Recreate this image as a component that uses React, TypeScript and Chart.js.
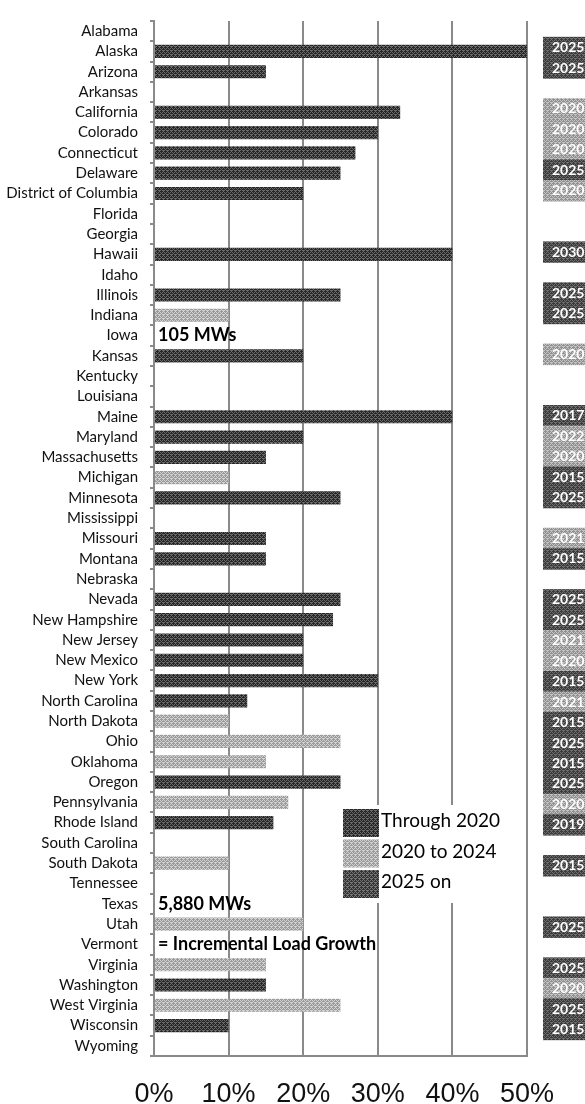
import React, { useEffect, useRef } from "react";
import { Chart, registerables } from "chart.js";

Chart.register(...registerables);

const states = [
  "Alabama", "Alaska", "Arizona", "Arkansas", "California", "Colorado", "Connecticut",
  "Delaware", "District of Columbia", "Florida", "Georgia", "Hawaii", "Idaho", "Illinois",
  "Indiana", "Iowa", "Kansas", "Kentucky", "Louisiana", "Maine", "Maryland", "Massachusetts",
  "Michigan", "Minnesota", "Mississippi", "Missouri", "Montana", "Nebraska", "Nevada",
  "New Hampshire", "New Jersey", "New Mexico", "New York", "North Carolina", "North Dakota",
  "Ohio", "Oklahoma", "Oregon", "Pennsylvania", "Rhode Island", "South Carolina",
  "South Dakota", "Tennessee", "Texas", "Utah", "Vermont", "Virginia", "Washington",
  "West Virginia", "Wisconsin", "Wyoming",
];

// Renewable portfolio standard target (% of load)
const targetPct: (number | null)[] = [
  null, 50, 15, null, 33, 30, 27, 25, 20, null, null, 40, null, 25,
  10, null, 20, null, null, 40, 20, 15,
  10, 25, null, 15, 15, null, 25,
  24, 20, 20, 30, 12.5, 10,
  25, 15, 25, 18, 16, null,
  10, null, null, 20, null, 15, 15,
  25, 10, null,
];

// "d" = dark bar, "l" = light bar
const barShade = [
  "d", "d", "d", "d", "d", "d", "d", "d", "d", "d", "d", "d", "d", "d",
  "l", "d", "d", "d", "d", "d", "d", "d",
  "l", "d", "d", "d", "d", "d", "d",
  "d", "d", "d", "d", "d", "l",
  "l", "l", "d", "l", "d", "d",
  "l", "d", "d", "l", "d", "l", "d",
  "l", "d", "d",
];

// Target year shown at right
const targetYear = [
  "", "2025", "2025", "", "2020", "2020", "2020", "2025", "2020", "", "", "2030", "", "2025",
  "2025", "", "2020", "", "", "2017", "2022", "2020",
  "2015", "2025", "", "2021", "2015", "", "2025",
  "2025", "2021", "2020", "2015", "2021", "2015",
  "2025", "2015", "2025", "2020", "2019", "",
  "2015", "", "", "2025", "", "2025", "2020",
  "2025", "2015", "",
];

const xTicks = [0, 10, 20, 30, 40, 50];

const notes = [
  { state: "Iowa", text: "105 MWs" },
  { state: "Texas", text: "5,880 MWs" },
  { state: "Vermont", text: "= Incremental Load Growth" },
];

const legendItems = ["Through 2020", "2020 to 2024", "2025 on"];
const legendShades = ["d", "l", "d2"];

const MASK = [
  [1, 0, 1, 0],
  [0, 1, 0, 0],
  [1, 0, 1, 1],
  [0, 0, 0, 1],
];

function makePattern(a: string, b: string): CanvasPattern | string {
  const c = document.createElement("canvas");
  c.width = 4;
  c.height = 4;
  const ctx = c.getContext("2d");
  if (!ctx) return a;
  for (let y = 0; y < 4; y++) {
    for (let x = 0; x < 4; x++) {
      ctx.fillStyle = MASK[y][x] ? a : b;
      ctx.fillRect(x, y, 1, 1);
    }
  }
  return ctx.createPattern(c, "repeat") || a;
}

export default function App() {
  const ref = useRef<HTMLCanvasElement | null>(null);

  useEffect(() => {
    if (!ref.current) return;
    const dark = makePattern("#6a6a6a", "#262626");
    const dark2 = makePattern("#777777", "#333333");
    const light = makePattern("#d2d2d2", "#9a9a9a");
    const yrDark = makePattern("#6e6e6e", "#3a3a3a");
    const yrLight = makePattern("#c4c4c4", "#909090");
    const shadeFill = (s: string) => (s === "l" ? light : s === "d2" ? dark2 : dark);

    const overlay = {
      id: "overlay",
      afterDraw(chart: any) {
        const ctx: CanvasRenderingContext2D = chart.ctx;
        const xs = chart.scales.x;
        const ys = chart.scales.y;
        const rowH = Math.abs(ys.getPixelForValue(1) - ys.getPixelForValue(0));
        const yrRow = rowH * 1.008;
        const mid = (states.length - 1) / 2;
        ctx.save();
        // year boxes (their column has a slightly larger row pitch)
        targetYear.forEach((yr, i) => {
          if (!yr) return;
          const n = parseInt(yr, 10);
          const isLight = n >= 2020 && n <= 2024;
          const yc = ys.getPixelForValue(mid) + (i - mid) * yrRow;
          ctx.fillStyle = isLight ? yrLight : yrDark;
          ctx.fillRect(xs.right + 16, yc - yrRow / 2 - 0.5, 60, yrRow + 1);
          ctx.fillStyle = "#ffffff";
          ctx.font = "bold 14px Lato";
          ctx.textAlign = "left";
          ctx.textBaseline = "middle";
          ctx.fillText(yr, xs.right + 25, yc);
        });
        // notes
        notes.forEach((n) => {
          const i = states.indexOf(n.state);
          const yc = ys.getPixelForValue(i);
          ctx.fillStyle = "#000000";
          ctx.font = "bold 18px Lato";
          ctx.textAlign = "left";
          ctx.textBaseline = "middle";
          ctx.fillText(n.text, xs.getPixelForValue(0) + 4, yc);
        });
        // legend
        const lx = 343;
        const ly = 809;
        ctx.fillStyle = "#ffffff";
        ctx.fillRect(lx - 3, ly - 4, 165, 98);
        legendItems.forEach((t, k) => {
          const top = ly + k * 30.5;
          ctx.fillStyle = shadeFill(legendShades[k]);
          ctx.fillRect(lx, top, 36, 28);
          ctx.fillStyle = "#000000";
          ctx.font = "19px Lato";
          ctx.textAlign = "left";
          ctx.textBaseline = "middle";
          ctx.fillText(t, lx + 38, top + 12);
        });
        ctx.restore();
      },
    };

    const chart = new Chart(ref.current, {
      type: "bar",
      data: {
        labels: states,
        datasets: [
          {
            label: "RPS target",
            data: targetPct,
            backgroundColor: barShade.map((s) => shadeFill(s)) as any,
            borderWidth: 0,
            barPercentage: 0.65,
            categoryPercentage: 1.0,
          },
        ],
      },
      options: {
        indexAxis: "y",
        animation: false,
        responsive: false,
        devicePixelRatio: 1,
        layout: { padding: { top: 11, right: 58, left: 0, bottom: 0 } },
        plugins: {
          legend: { display: false },
          tooltip: { enabled: false },
        },
        scales: {
          x: {
            type: "linear",
            min: 0,
            max: 50,
            afterBuildTicks: (scale: any) => {
              scale.ticks = xTicks.map((v) => ({ value: v }));
            },
            afterFit: (scale: any) => {
              scale.height = 48;
            },
            ticks: {
              callback: (v: any) => v + "%",
              font: { family: "Liberation Sans", size: 27 },
              color: "#111111",
              padding: 22,
              maxRotation: 0,
            },
            grid: { color: "#8a8a8a", lineWidth: 2, drawTicks: false },
            border: { display: true, color: "#8a8a8a", width: 2 },
          },
          y: {
            type: "category",
            afterFit: (scale: any) => {
              scale.width = 154;
            },
            ticks: {
              autoSkip: false,
              font: { family: "Lato", size: 15 },
              color: "#111111",
              padding: 12,
            },
            grid: {
              drawOnChartArea: false,
              drawTicks: true,
              tickLength: 4,
              color: "#8a8a8a",
              lineWidth: 2,
            },
            border: { display: true, color: "#8a8a8a", width: 2 },
          },
        },
      },
      plugins: [overlay],
    });
    return () => chart.destroy();
  }, []);

  return (
    <div style={{ position: "absolute", left: 0, top: 0, width: 585, height: 1104, background: "#fff" }}>
      <canvas ref={ref} width={585} height={1104} style={{ display: "block" }} />
    </div>
  );
}
